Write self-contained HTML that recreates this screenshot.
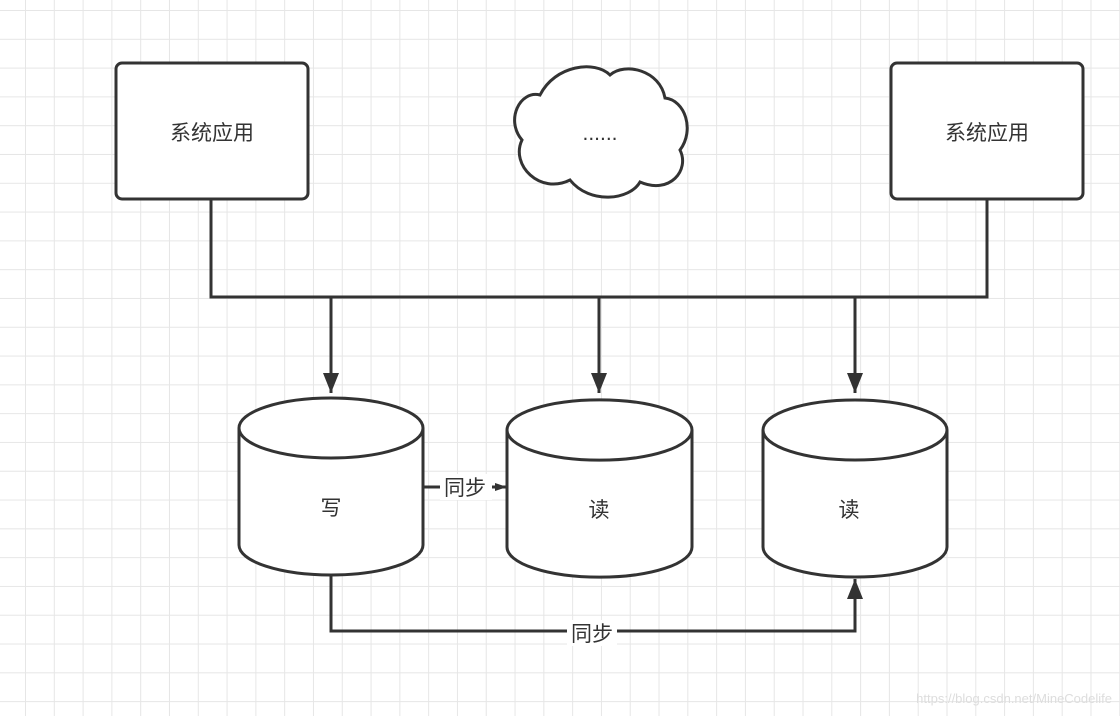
<!DOCTYPE html>
<html><head><meta charset="utf-8"><style>
html,body{margin:0;padding:0;}
body{width:1120px;height:716px;overflow:hidden;background:#fff;
background-image:linear-gradient(#e6e6e6 1px,transparent 1px),linear-gradient(90deg,#e6e6e6 1px,transparent 1px);
background-size:28.8px 28.8px;background-position:25px 10px;}
svg{position:absolute;left:0;top:0}
text{font-family:"Liberation Sans","Noto Sans CJK SC",sans-serif;fill:#333;}
</style></head><body>
<svg width="1120" height="716" xmlns="http://www.w3.org/2000/svg">
<defs><marker id="a" markerWidth="12" markerHeight="10" refX="12" refY="5" orient="auto" markerUnits="userSpaceOnUse"><path d="M0,1 L12,5 L0,9 Z" fill="#333"/></marker>
<marker id="b" markerWidth="20" markerHeight="24" refX="20" refY="10" orient="auto" markerUnits="userSpaceOnUse"><path d="M0,2 L20,10 L0,18 Z" fill="#333"/></marker></defs>
<g stroke="#333" stroke-width="3" fill="#fff">
<rect x="116" y="63" width="192" height="136" rx="6"/>
<rect x="891" y="63" width="192" height="136" rx="6"/>
<path d="M540,95 C520,90 505,120 522,140 C510,165 540,195 570,180 C590,205 630,200 640,182 C670,195 690,170 680,150 C695,130 685,100 665,98 C660,70 625,62 610,75 C595,60 555,65 540,95 Z"/>
<path d="M211,199 V297 H987 V199" fill="none"/>
<path d="M331,297 V393" fill="none" marker-end="url(#b)"/>
<path d="M599,297 V393" fill="none" marker-end="url(#b)"/>
<path d="M855,297 V393" fill="none" marker-end="url(#b)"/>
<path d="M239,428 V545 A92,30 0 0 0 423,545 V428 A92,30 0 0 0 239,428 A92,30 0 0 0 423,428" />
<path d="M507,430 V547 A92,30 0 0 0 692,547 V430 A92,30 0 0 0 507,430 A92,30 0 0 0 692,430" />
<path d="M763,430 V547 A92,30 0 0 0 947,547 V430 A92,30 0 0 0 763,430 A92,30 0 0 0 947,430" />
<path d="M423,487 H507" fill="none" marker-end="url(#a)"/>
<path d="M331,576 V631 H855 V579" fill="none" marker-end="url(#b)"/>
</g>
<rect x="440" y="474" width="52" height="26" fill="#fff"/>
<text x="465" y="495" font-size="21" text-anchor="middle">同步</text>
<rect x="567" y="620" width="50" height="26" fill="#fff"/>
<text x="592" y="641" font-size="21" text-anchor="middle">同步</text>
<g font-size="21" text-anchor="middle">
<text x="212" y="140">系统应用</text>
<text x="987" y="140">系统应用</text>
<text x="600" y="140">......</text>
<text x="331" y="515">写</text>
<text x="599" y="517">读</text>
<text x="849" y="517">读</text>
</g>
<text x="1112" y="703" font-size="13" text-anchor="end" style="fill:#ddd">https://blog.csdn.net/MineCodelife</text>
</svg>
</body></html>
